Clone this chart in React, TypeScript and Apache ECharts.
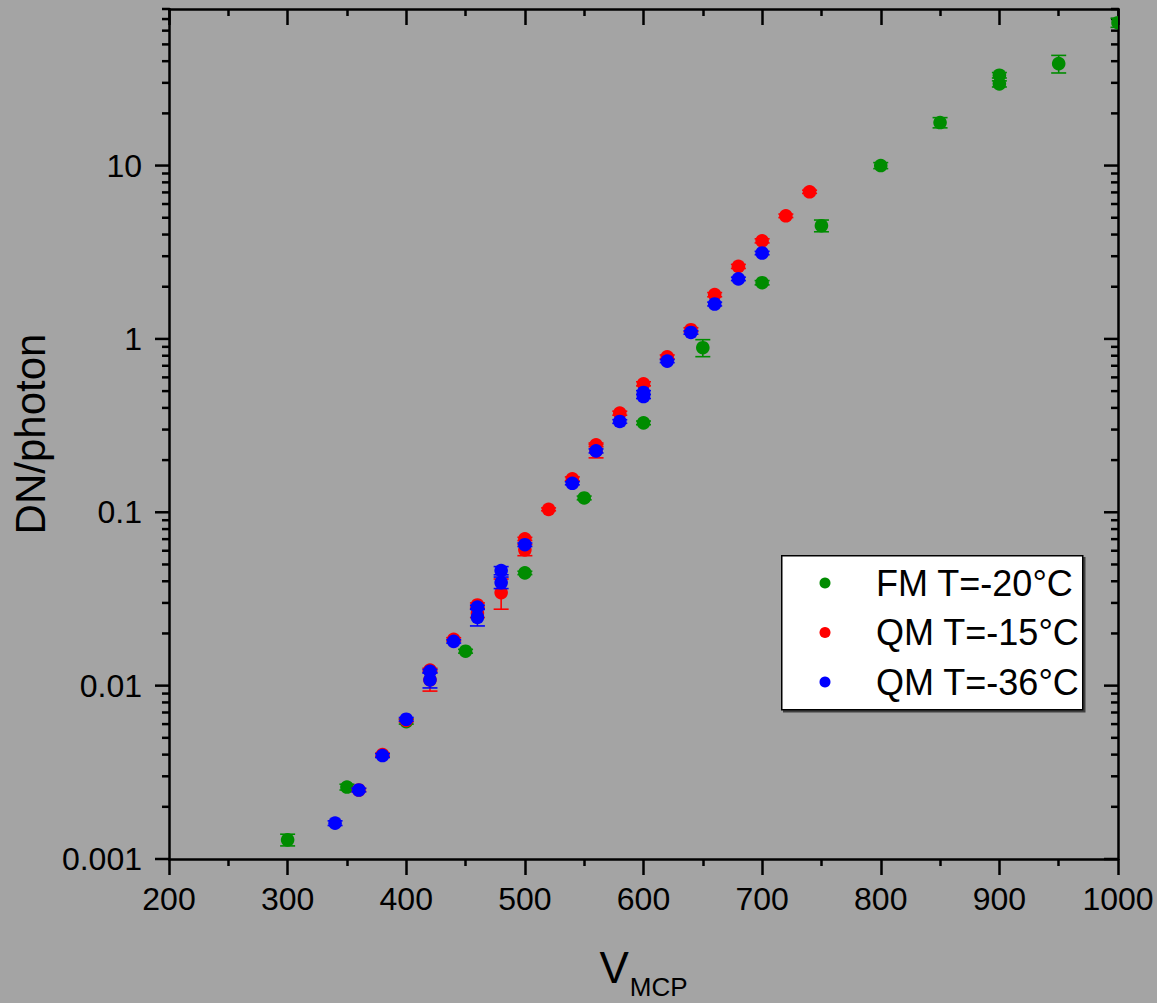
import React, { useEffect, useRef } from 'react';
import * as echarts from 'echarts';

// ---------------- data ----------------
const seriesNames = ['FM T=-20°C', 'QM T=-15°C', 'QM T=-36°C'];
const seriesColors = ['#008c00', '#ff0000', '#0000ff'];

const fmV = [300, 350, 400, 450, 500, 550, 600, 650, 700, 750, 800, 850, 900, 900, 950, 1000];
const fmGain = [0.00129, 0.0026, 0.0062, 0.0158, 0.0447, 0.121, 0.328, 0.89, 2.11, 4.5, 10.0, 17.7, 33.2, 29.6, 38.7, 66.7];
const fmErr = [0.0001, 0.0001, 0.0002, 0.0004, 0.001, 0.003, 0.008, 0.1, 0.06, 0.35, 0.4, 1.2, 1.2, 1.2, 4.5, 4];

const qm15V = [360, 380, 400, 420, 420, 440, 460, 460, 480, 500, 500, 520, 540, 560, 560, 580, 600, 620, 640, 660, 680, 700, 720, 740];
const qm15Gain = [0.0025, 0.004, 0.0063, 0.0123, 0.0108, 0.0185, 0.0292, 0.0262, 0.0344, 0.0702, 0.0607, 0.104, 0.156, 0.245, 0.226, 0.373, 0.551, 0.788, 1.13, 1.8, 2.62, 3.68, 5.13, 7.06];
const qm15Err = [0.00005, 0.00008, 0.00012, 0.0003, 0.0015, 0.0004, 0.0008, 0.0015, 0.0068, 0.0015, 0.0045, 0.002, 0.004, 0.006, 0.02, 0.01, 0.015, 0.02, 0.03, 0.05, 0.07, 0.1, 0.12, 0.15];

const qm36V = [340, 360, 380, 400, 420, 420, 440, 460, 460, 480, 480, 500, 540, 560, 580, 600, 600, 620, 640, 660, 680, 700];
const qm36Gain = [0.00161, 0.0025, 0.00395, 0.0064, 0.0121, 0.0108, 0.018, 0.0284, 0.0248, 0.0461, 0.0393, 0.065, 0.147, 0.226, 0.334, 0.491, 0.465, 0.745, 1.09, 1.59, 2.22, 3.13];
const qm36Err = [0.00005, 0.00006, 0.0001, 0.00015, 0.0003, 0.0011, 0.0004, 0.0007, 0.0027, 0.0025, 0.003, 0.0015, 0.003, 0.006, 0.008, 0.012, 0.012, 0.015, 0.025, 0.04, 0.05, 0.07];

const xMin = 200;
const xMax = 1000;
const xTickStep = 100;
const yMin = 0.001;
const yMax = 80;
const yTickLabels = ['0.001', '0.01', '0.1', '1', '10'];

// ---------------- styling ----------------
const BG = '#a4a4a4';
const FONT = '"Liberation Sans", Arial, sans-serif';
const AXIS_W = 2.5;

function errSeries(idx: number, xs: number[], ys: number[], es: number[]) {
  const color = seriesColors[idx];
  return {
    type: 'custom',
    name: seriesNames[idx],
    coordinateSystem: 'cartesian2d',
    xAxisIndex: 0,
    yAxisIndex: 0,
    clip: true,
    z: 5 + idx,
    itemStyle: { color },
    encode: { x: 0, y: 1 },
    data: xs.map((x, i) => [x, ys[i], es[i]]),
    renderItem: (params: any, api: any) => {
      const x = api.value(0);
      const y = api.value(1);
      const e = api.value(2);
      const c = api.coord([x, y]);
      const hi = api.coord([x, y + e]);
      const lo = api.coord([x, Math.max(y - e, 1e-7)]);
      const cw = 7.5;
      const st = { stroke: color, lineWidth: 1.6 };
      return {
        type: 'group',
        children: [
          { type: 'line', shape: { x1: c[0], y1: hi[1], x2: c[0], y2: lo[1] }, style: st },
          { type: 'line', shape: { x1: c[0] - cw, y1: hi[1], x2: c[0] + cw, y2: hi[1] }, style: st },
          { type: 'line', shape: { x1: c[0] - cw, y1: lo[1], x2: c[0] + cw, y2: lo[1] }, style: st },
          { type: 'circle', shape: { cx: c[0], cy: c[1], r: 6.8 }, style: { fill: color } },
        ],
      };
    },
  };
}

function buildYTicks() {
  const out: number[][] = [];
  for (let e = -3; e <= 1; e++) {
    const d = Math.pow(10, e);
    out.push([xMin, d, 1]);
    for (let m = 2; m <= 9; m++) {
      const v = d * m;
      if (v <= yMax + 1e-9) out.push([xMin, v, 0]);
    }
  }
  return out;
}

function labelForLog(v: number) {
  const e = Math.log10(v);
  const r = Math.round(e);
  if (Math.abs(e - r) > 1e-6) return '';
  const idx = r + 3;
  return yTickLabels[idx] ?? '';
}

export default function App() {
  const ref = useRef<HTMLDivElement>(null);
  useEffect(() => {
    if (!ref.current) return;
    const chart = echarts.init(ref.current, null, { renderer: 'svg' });

    const legendX = 781;
    const legendY = 555;
    const legendRowY = [583, 632.5, 682];

    const option: any = {
      animation: false,
      backgroundColor: BG,
      grid: {
        left: 169,
        right: 39,
        top: 9,
        bottom: 144,
        show: false,
        containLabel: false,
        outerBoundsMode: 'none',
      },
      xAxis: [
        {
          type: 'value',
          min: xMin,
          max: xMax,
          interval: xTickStep,
          position: 'bottom',
          axisLine: { show: true, lineStyle: { color: '#000', width: AXIS_W } },
          axisTick: { show: true, inside: false, length: 16, lineStyle: { color: '#000', width: AXIS_W } },
          minorTick: { show: true, splitNumber: 2, length: 7, lineStyle: { color: '#000', width: AXIS_W } },
          splitLine: { show: false },
          axisLabel: {
            color: '#000',
            fontSize: 32,
            fontFamily: FONT,
            margin: 24,
            formatter: (v: number) => String(v),
          },
          name: '{v|V}{s|MCP}',
          nameLocation: 'middle',
          nameGap: 75,
          nameTextStyle: {
            color: '#000',
            fontFamily: FONT,
            rich: {
              v: { fontSize: 44, fontFamily: FONT, color: '#000' },
              s: { fontSize: 26, fontFamily: FONT, color: '#000', padding: [40, 0, 0, 1] },
            },
          },
        },
        {
          type: 'value',
          min: xMin,
          max: xMax,
          interval: xTickStep,
          position: 'top',
          axisLine: { show: true, lineStyle: { color: '#000', width: AXIS_W } },
          axisTick: { show: true, inside: true, length: 16, lineStyle: { color: '#000', width: AXIS_W } },
          minorTick: { show: true, splitNumber: 2, length: 7, lineStyle: { color: '#000', width: AXIS_W } },
          splitLine: { show: false },
          axisLabel: { show: false },
        },
      ],
      yAxis: [
        {
          type: 'log',
          logBase: 10,
          min: yMin,
          max: yMax,
          position: 'left',
          axisLine: { show: true, lineStyle: { color: '#000', width: AXIS_W } },
          axisTick: { show: false },
          minorTick: { show: false },
          splitLine: { show: false },
          axisLabel: {
            color: '#000',
            fontSize: 32,
            fontFamily: FONT,
            margin: 27,
            formatter: (v: number) => labelForLog(v),
          },
          name: 'DN/photon',
          nameLocation: 'middle',
          nameRotate: 90,
          nameGap: 118,
          nameTextStyle: { color: '#000', fontSize: 42, fontFamily: FONT },
        },
        {
          type: 'log',
          logBase: 10,
          min: yMin,
          max: yMax,
          position: 'right',
          axisLine: { show: true, lineStyle: { color: '#000', width: AXIS_W } },
          axisTick: { show: false },
          minorTick: { show: false },
          splitLine: { show: false },
          axisLabel: { show: false },
        },
      ],
      series: [
        {
          type: 'custom',
          name: 'yticks',
          coordinateSystem: 'cartesian2d',
          xAxisIndex: 0,
          yAxisIndex: 0,
          clip: false,
          silent: true,
          z: 3,
          encode: { x: 0, y: 1 },
          data: buildYTicks(),
          renderItem: (params: any, api: any) => {
            const v = api.value(1);
            const major = api.value(2) === 1;
            const l = api.coord([xMin, v]);
            const r = api.coord([xMax, v]);
            const len = major ? 14 : 7;
            const st = { stroke: '#000', lineWidth: AXIS_W };
            return {
              type: 'group',
              children: [
                { type: 'line', shape: { x1: l[0] - len, y1: l[1], x2: l[0], y2: l[1] }, style: st },
                { type: 'line', shape: { x1: r[0] - len, y1: r[1], x2: r[0], y2: r[1] }, style: st },
              ],
            };
          },
        },
        errSeries(0, fmV, fmGain, fmErr),
        errSeries(1, qm15V, qm15Gain, qm15Err),
        errSeries(2, qm36V, qm36Gain, qm36Err),
      ],
      graphic: [
        {
          type: 'rect',
          left: legendX,
          top: legendY,
          z: 100,
          shape: { width: 301, height: 154 },
          style: {
            fill: '#fff',
            stroke: '#000',
            lineWidth: 1.5,
            shadowColor: 'rgba(40,40,40,0.8)',
            shadowOffsetX: 2,
            shadowOffsetY: 2,
            shadowBlur: 0,
          },
        },
        ...seriesNames.map((n, i) => ({
          type: 'circle',
          z: 101,
          shape: { cx: 825, cy: legendRowY[i], r: 5.5 },
          style: { fill: seriesColors[i] },
        })),
        ...seriesNames.map((n, i) => ({
          type: 'text',
          z: 101,
          x: 876,
          y: legendRowY[i],
          style: {
            text: n,
            fill: '#000',
            font: `36px ${FONT}`,
            textVerticalAlign: 'middle',
            verticalAlign: 'middle',
          },
        })),
      ],
    };

    chart.setOption(option);
    return () => chart.dispose();
  }, []);

  return (
    <div style={{ position: 'fixed', left: 0, top: 0, width: 1157, height: 1003, background: BG }}>
      <div ref={ref} style={{ width: 1157, height: 1003 }} />
    </div>
  );
}
